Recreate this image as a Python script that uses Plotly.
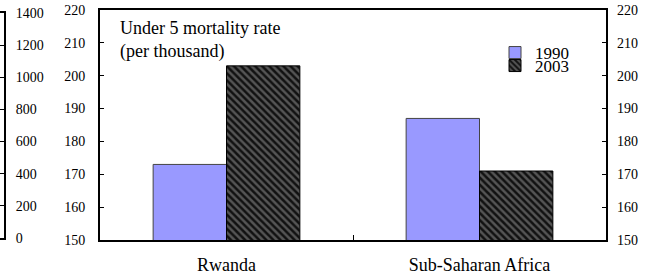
import plotly.graph_objects as go

categories = ["Rwanda", "Sub-Saharan Africa"]
years = ["1990", "2003"]
values_1990 = [173, 187]
values_2003 = [203, 171]
main_ticks = [150, 160, 170, 180, 190, 200, 210, 220]
side_ticks = [0, 200, 400, 600, 800, 1000, 1200, 1400]

W, H = 646, 277
FONT = "Times New Roman, Liberation Serif, serif"

def px_x(p):
    return p / W

def px_y(p):
    return (H - p) / H

fig = go.Figure()
fig.add_trace(go.Bar(
    x=categories, y=values_1990, name=years[0], legend="legend",
    marker=dict(color="#9999FF", line=dict(color="#444444", width=1)),
))
fig.add_trace(go.Bar(
    x=categories, y=values_2003, name=years[1], legend="legend2",
    marker=dict(color="#555555", line=dict(color="#000000", width=1),
                pattern=dict(shape="\\", fgcolor="#111111", bgcolor="#555555",
                             size=5, solidity=0.5)),
))
# invisible trace for right axis
fig.add_trace(go.Scatter(x=categories, y=[main_ticks[0], main_ticks[0]], yaxis="y2",
                         mode="markers", marker=dict(opacity=0), showlegend=False,
                         hoverinfo="skip"))
# invisible trace for leftmost partial axis
fig.add_trace(go.Scatter(x=[0, 1], y=[side_ticks[0], side_ticks[-1]], xaxis="x3", yaxis="y3",
                         mode="markers", marker=dict(opacity=0), showlegend=False,
                         hoverinfo="skip"))

tick_font = dict(family=FONT, size=14, color="black")
cat_font = dict(family=FONT, size=18, color="black")
leg_common = dict(xanchor="left", yanchor="middle", bgcolor="rgba(0,0,0,0)",
                  font=dict(family=FONT, size=17, color="black"),
                  itemwidth=30, borderwidth=0)

fig.update_layout(
    template="none",
    width=W, height=H,
    margin=dict(l=0, r=0, t=0, b=0, pad=0),
    paper_bgcolor="white", plot_bgcolor="white",
    font=dict(family=FONT, color="black"),
    barmode="group", bargap=0.42, bargroupgap=0,
    xaxis=dict(domain=[px_x(100), px_x(606)], type="category", automargin=False,
               range=[-0.5, 1.5], showline=True, linecolor="black", linewidth=2,
               mirror=True, ticks="inside", ticklen=5, tickcolor="black",
               tickson="boundaries", showgrid=False, tickfont=cat_font,
               ticklabelstandoff=7),
    yaxis=dict(domain=[px_y(240), px_y(10)], range=[150, 220], tickvals=main_ticks,
               automargin=False,
               showline=True, linecolor="black", linewidth=2, mirror=True,
               ticks="inside", ticklen=4, tickcolor="black", showgrid=False,
               zeroline=False, tickfont=tick_font, ticklabelstandoff=10),
    yaxis2=dict(overlaying="y", side="right", range=[150, 220], tickvals=main_ticks,
                automargin=False,
                showline=False, ticks="inside", ticklen=4, tickcolor="black",
                showgrid=False, zeroline=False, tickfont=tick_font,
                ticklabelstandoff=10),
    xaxis3=dict(domain=[0, px_x(4)], anchor="y3", range=[0, 1], showline=True,
                automargin=False,
                linecolor="black", linewidth=2, mirror=True, showticklabels=False,
                ticks="", showgrid=False, zeroline=False),
    yaxis3=dict(domain=[px_y(238), px_y(13)], anchor="x3", side="right",
                automargin=False,
                range=[0, 1400], tickvals=side_ticks, showline=True,
                linecolor="black", linewidth=2, ticks="inside", ticklen=4,
                tickcolor="black", showgrid=False, zeroline=False,
                tickfont=tick_font, ticklabelstandoff=7),
    legend=dict(x=px_x(495), y=px_y(53), **leg_common),
    legend2=dict(x=px_x(495), y=px_y(66), **leg_common),
    annotations=[dict(text="Under 5 mortality rate<br>(per thousand)",
                      xref="paper", yref="paper", x=px_x(118), y=px_y(16),
                      xanchor="left", yanchor="top", align="left",
                      showarrow=False, font=dict(family=FONT, size=18))],
)

fig.write_html("out.html", config={"displayModeBar": False},
               post_script="document.body.style.margin='0';")
